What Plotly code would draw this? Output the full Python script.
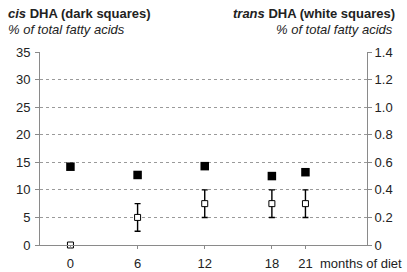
import plotly.graph_objects as go

months = [0, 6, 12, 18, 21]
month_labels = ["0", "6", "12", "18", "21"]
cis_dha = [14.2, 12.7, 14.3, 12.5, 13.2]
trans_dha = [0.0, 0.2, 0.3, 0.3, 0.3]
trans_err = [0.0, 0.1, 0.1, 0.1, 0.1]
left_ticks = [0, 5, 10, 15, 20, 25, 30, 35]
right_ticks = [0, 0.2, 0.4, 0.6, 0.8, 1.0, 1.2, 1.4]
right_labels = ["0", "0.2", "0.4", "0.6", "0.8", "1.0", "1.2", "1.4"]

FONT = "Liberation Sans, Arial, sans-serif"
TXT = "#222222"
AX = "#8a8a8a"
FS = 13

W, H = 407, 272
L, R, T, B = 40, 40, 52, 27
PW, PH = W - L - R, H - T - B

fig = go.Figure()
fig.add_trace(go.Scatter(
    x=months, y=cis_dha, mode="markers", yaxis="y",
    marker=dict(symbol="square", size=8.5, color="black", line=dict(width=0)),
    cliponaxis=False, showlegend=False, hoverinfo="skip"))
fig.add_trace(go.Scatter(
    x=months, y=trans_dha, mode="markers", yaxis="y2",
    marker=dict(symbol="square", size=6, color="white", line=dict(width=1, color="black")),
    error_y=dict(type="data", array=trans_err, visible=True, color="black", thickness=1.4, width=3),
    cliponaxis=False, showlegend=False, hoverinfo="skip"))

fig.update_layout(
    width=W, height=H,
    margin=dict(l=L, r=R, t=T, b=B, autoexpand=False),
    paper_bgcolor="white", plot_bgcolor="white",
    font=dict(family=FONT, size=FS, color=TXT),
    xaxis=dict(range=[-2.72, 26.5], tickvals=months, ticktext=month_labels, automargin=False,
               showgrid=False, zeroline=False, showline=True, linecolor=AX, linewidth=1,
               ticks="outside", ticklen=3, tickcolor=AX, ticklabelstandoff=3,
               tickfont=dict(size=FS, color=TXT)),
    yaxis=dict(range=[0, 35], tickvals=left_ticks, showgrid=True, gridcolor="#9a9a9a",
               griddash="dot", gridwidth=1, zeroline=False, showline=True, linecolor=AX,
               linewidth=1, ticks="outside", ticklen=4, tickcolor=AX, ticklabelstandoff=2,
               automargin=False, tickfont=dict(size=FS, color=TXT)),
    yaxis2=dict(range=[0, 1.4], tickvals=right_ticks, ticktext=right_labels,
                overlaying="y", side="right", showgrid=False, zeroline=False,
                showline=True, linecolor=AX, linewidth=1, ticks="outside", ticklen=4,
                automargin=False, tickcolor=AX, tickfont=dict(size=FS, color=TXT)),
)

annos = [
    dict(x=7, y=14, text="<b><i>cis</i> DHA (dark squares)</b>", xanchor="left"),
    dict(x=7, y=29, text="<i>% of total fatty acids</i>", xanchor="left"),
    dict(x=396, y=14, text="<b><i>trans</i> DHA (white squares)</b>", xanchor="right"),
    dict(x=394, y=29, text="<i>% of total fatty acids</i>", xanchor="right"),
    dict(x=319, y=263, text="months of diet", xanchor="left"),
]
for a in annos:
    fig.add_annotation(xref="paper", yref="paper", x=(a["x"] - L) / PW,
                       y=(H - a["y"] - B) / PH, text=a["text"], showarrow=False,
                       xanchor=a["xanchor"], yanchor="middle", borderpad=0,
                       font=dict(family=FONT, size=FS, color=TXT))

fig.write_html("out.html", config={"displayModeBar": False},
               post_script="document.body.style.margin='0';document.body.style.overflow='hidden';")
